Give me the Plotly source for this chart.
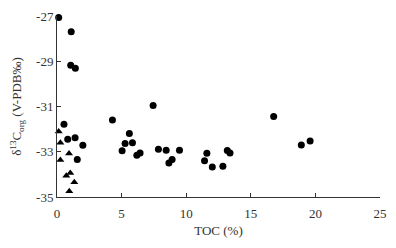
import plotly.graph_objects as go

# circles: TOC (%) vs d13C org
toc_circle = [0.13, 1.1, 1.06, 1.42, 0.54, 0.83, 1.4, 2.0, 1.57,
              4.29, 5.04, 5.27, 5.6, 5.84, 6.18, 6.43, 7.44, 7.85, 8.45, 8.66, 8.91, 9.48,
              11.6, 11.42, 12.02, 12.84, 13.18, 13.39, 16.77, 18.91, 19.59]
d13c_circle = [-27.07, -27.7, -29.18, -29.31, -31.78, -32.45, -32.38, -32.71, -33.34,
               -31.6, -32.96, -32.64, -32.19, -32.6, -33.15, -33.05, -30.96, -32.89, -32.93, -33.5, -33.34, -32.93,
               -33.07, -33.4, -33.67, -33.64, -32.95, -33.05, -31.44, -32.7, -32.53]

# triangles
toc_tri = [0.13, 0.26, 0.26, 0.93, 0.72, 1.03, 1.34, 0.95]
d13c_tri = [-32.1, -32.6, -33.36, -33.08, -34.06, -33.94, -34.35, -34.75]

x_ticks = [0, 5, 10, 15, 20, 25]
y_ticks = [-35, -33, -31, -29, -27]
y_tick_text = ["-35", "-33", "-31", "-29", "-27"]

font = "Liberation Serif"

fig = go.Figure()
fig.add_trace(go.Scatter(x=toc_circle, y=d13c_circle, mode="markers",
                         marker=dict(symbol="circle", size=7, color="black"),
                         cliponaxis=False))
fig.add_trace(go.Scatter(x=toc_tri, y=d13c_tri, mode="markers",
                         marker=dict(symbol="triangle-up", size=7, color="black"),
                         cliponaxis=False))

axis_common = dict(showgrid=False, zeroline=False, showline=True, linecolor="#333",
                   linewidth=1, ticks="inside", ticklen=4, tickcolor="#333",
                   automargin=False,
                   tickfont=dict(family=font, size=13, color="#333"))

# page has an 8px body margin, so the figure is a bit smaller than the window
fig.update_layout(
    width=380, height=232,
    margin=dict(l=49, r=8, t=8, b=43),
    paper_bgcolor="white", plot_bgcolor="white",
    showlegend=False,
    font=dict(family=font, color="#333"),
    xaxis=dict(range=[0, 25], tickvals=x_ticks, ticklabelstandoff=4,
               title=dict(text="TOC (%)", font=dict(family=font, size=13), standoff=6),
               **axis_common),
    yaxis=dict(range=[-35, -27], tickvals=y_ticks, ticktext=y_tick_text,
               title=dict(text="δ<sup>13</sup>C<sub>org</sub> (V-PDB‰)",
                          font=dict(family=font, size=13), standoff=12),
               **axis_common),
)

fig.write_html("out.html")
